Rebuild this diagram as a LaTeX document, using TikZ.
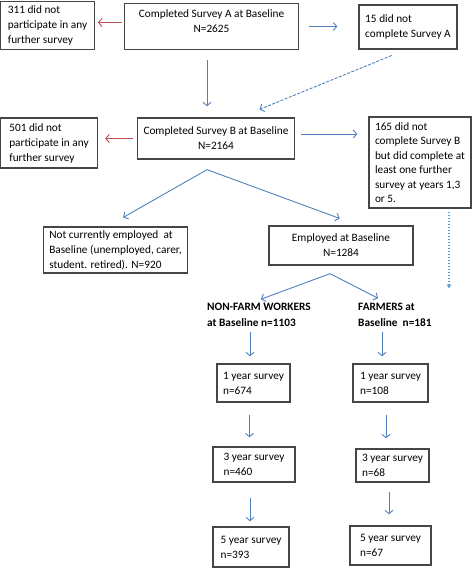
\documentclass[tikz,border=0pt]{standalone}
\usepackage{fontspec}
\setmainfont{Carlito}
\usetikzlibrary{arrows.meta}
\definecolor{ablue}{RGB}{79,129,189}
\definecolor{lblue}{RGB}{91,155,213}
\definecolor{ared}{RGB}{192,80,77}
\definecolor{edge}{RGB}{70,70,70}

\begin{document}
\begin{tikzpicture}[x=1pt,y=-1pt,
  >={Straight Barb[length=3.5pt,width=8pt]},
  box/.style={draw=edge,line width=1.3pt,inner xsep=6pt,inner ysep=0pt,align=left,font=\fontsize{11.3}{15}\selectfont},
  cbox/.style={box,align=center},
  grp/.style={inner sep=0pt,align=left,font=\fontsize{11.3}{16}\selectfont\bfseries},
  blu/.style={ablue,line width=0.9pt,->},
  rd/.style={ared,line width=0.9pt,->}]
\useasboundingbox (0,0) rectangle (473,568);
\node[box,minimum width=93.5pt,minimum height=48pt] (nolA) at (47.5,25.5) {311 did not\\participate in any\\further survey};
\node[cbox,minimum width=174pt,minimum height=46pt] (svA) at (211.5,26.5) {Completed Survey A at Baseline\\N=2625\\[-5pt]\mbox{}};
\node[box,minimum width=98pt,minimum height=44pt] (ncA) at (408,27) {15 did not\\complete Survey A};
\node[box,minimum width=97pt,minimum height=50pt] (nolB) at (49,143) {501 did not\\participate in any\\further survey};
\node[cbox,minimum width=154pt,minimum height=41pt] (svB) at (216,138.5) {Completed Survey B at Baseline\\N=2164};
\node[box,minimum width=102pt,minimum height=91pt,font=\fontsize{11.3}{14.5}\selectfont] (ncB) at (420,162.5) {165 did not\\complete Survey B\\but did complete at\\least one further\\survey at years 1,3\\or 5.};
\node[box,minimum width=143pt,minimum height=46pt] (notEmp) at (115.5,250) {Not currently employed~ at\\Baseline (unemployed, carer,\\student. retired). N=920};
\node[cbox,minimum width=144pt,minimum height=39pt] (emp) at (341,245.5) {Employed at Baseline\\N=1284};
\node[grp,anchor=west] (tNon) at (207,315) {NON-FARM WORKERS\\at Baseline n=1103};
\node[grp,anchor=west] (tFarm) at (358,315) {FARMERS at\\Baseline~ n=181};
\node[box,minimum width=73pt,minimum height=38pt] (nf1) at (253.5,383) {1 year survey\\n=674};
\node[box,minimum width=75pt,minimum height=38pt] (fa1) at (390.5,383) {1 year survey\\n=108};
\node[box,minimum width=82pt,minimum height=35pt] (nf3) at (254,464.5) {3 year survey\\n=460};
\node[box,minimum width=73pt,minimum height=33pt] (fa3) at (392.5,465.5) {3 year survey\\n=68};
\node[box,minimum width=76pt,minimum height=40pt] (nf5) at (251,547) {5 year survey\\n=393};
\node[box,minimum width=81pt,minimum height=39pt] (fa5) at (390.5,545.5) {5 year survey\\n=67};
\coordinate (splitB) at ([xshift=-9pt,yshift=-10pt]svB.south);
\coordinate (splitE) at ([xshift=-11pt,yshift=-8pt]emp.south);
\coordinate (dotEnd) at ([xshift=29pt,yshift=-80pt]ncB.south);
\draw[rd,shorten <=2pt,shorten >=3pt] ([yshift=4pt]svA.west) -- ([yshift=4pt]svA.west -| nolA.east);
\draw[blu,shorten <=10pt,shorten >=21pt] (svA.east) -- (svA.east -| ncA.west);
\draw[blu,shorten <=10pt,shorten >=11pt] ([xshift=-4.5pt]svA.south) -- ([xshift=-4.5pt]svA.south |- svB.north);
\draw[blu,dash pattern=on 3pt off 1.5pt,shorten <=15.5pt,shorten >=21pt] ([xshift=-2pt]ncA.south) -- ([xshift=24pt]svB.north);
\draw[rd,shorten <=4pt,shorten >=7pt] (svB.west) -- (svB.west -| nolB.east);
\draw[blu,shorten <=6pt,shorten >=11pt] ([yshift=4.5pt]svB.east) -- ([yshift=4.5pt]svB.east -| ncB.west);
\draw[blu,shorten >=18pt] (splitB) -- ([xshift=-8pt]notEmp.north);
\draw[blu,shorten >=20pt] (splitB) -- ([xshift=17.5pt]emp.north);
\draw[lblue,line width=1.2pt,dash pattern=on 1.5pt off 1.5pt,-{Latex[length=4pt,width=5pt]},shorten <=3pt] ([xshift=29pt]ncB.south) -- (dotEnd);
\draw[blu,shorten >=11pt] (splitE) -- ([xshift=43.6pt]tNon.north west);
\draw[blu,shorten >=10.6pt] (splitE) -- ([xshift=29.5pt]tFarm.north west);
\draw[blu,shorten <=5pt,shorten >=7pt] ([xshift=-3.5pt]nf1.north |- tNon.south) -- ([xshift=-3.5pt]nf1.north);
\draw[blu,shorten <=5pt,shorten >=7pt] ([xshift=-8.5pt]fa1.north |- tFarm.south) -- ([xshift=-8.5pt]fa1.north);
\draw[blu,shorten <=12pt,shorten >=9pt] ([xshift=-4pt]nf1.south) -- ([xshift=-4pt]nf1.south |- nf3.north);
\draw[blu,shorten <=12pt,shorten >=10pt] ([xshift=-4.5pt]fa1.south) -- ([xshift=-4.5pt]fa1.south |- fa3.north);
\draw[blu,shorten <=15pt,shorten >=5pt] ([xshift=-4pt]nf3.south) -- ([xshift=-4pt]nf3.south |- nf5.north);
\draw[blu,shorten <=9pt,shorten >=11pt] ([xshift=-3.5pt]fa3.south) -- ([xshift=-3.5pt]fa3.south |- fa5.north);
\end{tikzpicture}
\end{document}
